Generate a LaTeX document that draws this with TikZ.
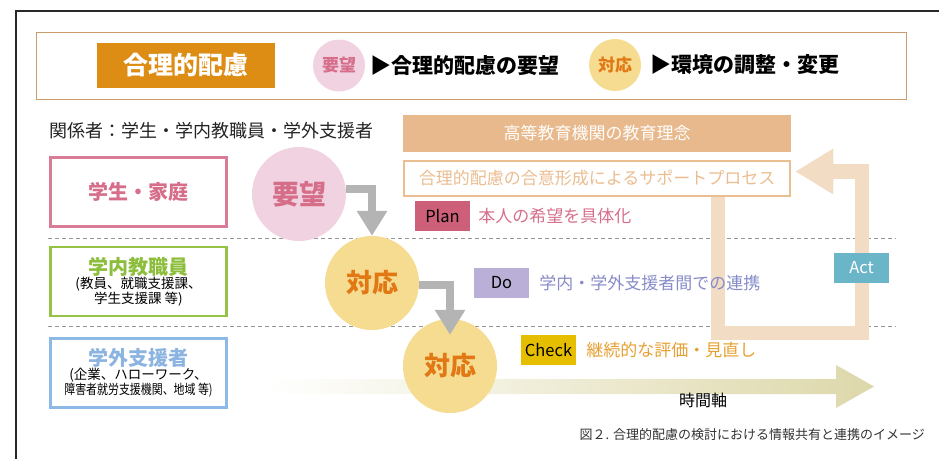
\documentclass[tikz,border=0pt]{standalone}
\usepackage{fontspec}
\setmainfont{Noto Sans CJK JP}
\usepackage{xcolor}
\usetikzlibrary{positioning,arrows.meta}

\definecolor{frameline}{RGB}{40,40,40}
\definecolor{headline}{RGB}{205,155,110}
\definecolor{titleorange}{RGB}{221,140,20}
\definecolor{pinkfill}{RGB}{240,210,225}
\definecolor{pinktext}{RGB}{214,110,138}
\definecolor{pinkline}{RGB}{217,125,150}
\definecolor{yellowfill}{RGB}{245,220,145}
\definecolor{orangetext}{RGB}{225,120,20}
\definecolor{greenline}{RGB}{150,195,70}
\definecolor{greentext}{RGB}{140,190,60}
\definecolor{blueline}{RGB}{140,185,230}
\definecolor{bluetext}{RGB}{140,180,225}
\definecolor{tanbar}{RGB}{232,185,140}
\definecolor{tanline}{RGB}{235,190,145}
\definecolor{loopcol}{RGB}{242,220,195}
\definecolor{planfill}{RGB}{205,95,120}
\definecolor{dofill}{RGB}{185,175,215}
\definecolor{dotext}{RGB}{135,140,200}
\definecolor{checkfill}{RGB}{230,190,0}
\definecolor{checktext}{RGB}{230,160,50}
\definecolor{actfill}{RGB}{107,181,200}
\definecolor{arrowgray}{RGB}{180,180,180}
\definecolor{axiscol}{RGB}{221,216,170}
\definecolor{dashcol}{RGB}{150,150,150}

\newcommand{\fsz}[1]{\fontsize{#1}{#1}\selectfont}

\begin{document}
\begin{tikzpicture}[x=1pt, y=-1pt,
    main/.style = {circle, inner sep=0pt},
    lbl/.style = {inner sep=0pt},
    role/.style = {draw, line width=2.5pt, minimum width=176pt, minimum height=69pt, align=center, fill=white, inner sep=0pt},
    tag/.style = {minimum width=55pt, minimum height=30pt, inner sep=0pt, font=\fsz{16.5}},
    gray arrow/.style = {draw=arrowgray, line width=8pt, -{Triangle[length=25pt,width=29pt]}},
    loop band/.style = {draw=loopcol, line width=14.5pt, -{Triangle[length=38pt,width=43pt]}},
    sep line/.style = {draw=dashcol, line width=0.8pt, dash pattern=on 4pt off 3pt}]
    \useasboundingbox (0,0) rectangle (939,459);
    \draw[frameline, line width=1.2pt] (16,459) -- (16,11) -- (939,11);

    \node[draw=headline, line width=1.5pt, minimum width=870pt, minimum height=67pt] (1) at (471.5,66) {};
    \node[fill=titleorange, minimum width=178pt, minimum height=45pt, text=white, font=\bfseries\fsz{25}] (2) at (186,65.5) {合理的配慮};
    \node[main, fill=pinkfill, minimum size=52pt, text=pinktext, font=\bfseries\fsz{17}] (3) at (339,65.5) {要望};
    \node[lbl, right=5pt of 3, font=\bfseries\fsz{21}] (4) {▶合理的配慮の要望};
    \node[main, fill=yellowfill, minimum size=52pt, text=orangetext, font=\bfseries\fsz{17}] (5) at (615,65) {対応};
    \node[lbl, right=9pt of 5, font=\bfseries\fsz{21}] (6) {▶環境の調整・変更};

    \node[lbl, anchor=west, text={rgb,255:red,35;green,35;blue,35}, font=\fsz{18}] (7) at (49,131) {関係者：学生・学内教職員・学外支援者};
    \node[fill=tanbar, minimum width=388pt, minimum height=37pt, text=white, font=\fsz{17}] (8) at (597,133.5) {高等教育機関の教育理念};

    \draw[sep line] (48,238) -- (896,238);
    \draw[sep line] (48,326) -- (896,326);

    \node[draw=tanline, line width=2.5pt, fill=white, minimum width=386pt, minimum height=35pt, text=tanline, font=\fsz{17}] (9) at (597,178.5) {合理的配慮の合意形成によるサポートプロセス};
    \draw[loop band] ([xshift=121pt]9.south) |- (862,333) |- ([shift={(4pt,7pt)}]9.east);
    \node[draw=tanline, line width=2.5pt, fill=white, minimum width=386pt, minimum height=35pt, text=tanline, font=\fsz{17}] at (597,178.5) {合理的配慮の合意形成によるサポートプロセス};

    \node[role, draw=pinkline] (10) at (138.5,192) {\bfseries\color{pinktext}\fsz{20}学生・家庭};
    \node[role, draw=greenline] (11) at (138.5,281.5) {{\bfseries\color{greentext}\fontsize{20}{24}\selectfont 学内教職員}\\
        {\fontsize{13.5}{17.5}\selectfont (教員、就職支援課、}\\{\fontsize{13.5}{17.5}\selectfont 学生支援課 等)}};
    \node[role, draw=blueline] (12) at (138.5,373) {{\bfseries\color{bluetext}\fontsize{20}{24}\selectfont 学外支援者}\\
        {\fontsize{13.5}{17.5}\selectfont (企業、ハローワーク、}\\{\fontsize{13.5}{17.5}\selectfont \scalebox{0.81}[1]{障害者就労支援機関、地域 等)}}};

    \shade[left color=white, right color=axiscol] (265,379) -- (836,379) -- (836,365) -- (874,386.5) -- (836,408) -- (836,394) -- (265,394) -- cycle;
    \node[lbl, font=\fsz{16}] (13) at (703,400) {時間軸};

    \node[main, fill=pinkfill, minimum size=94pt, text=pinktext, font=\bfseries\fsz{27}] (14) at (299,194) {要望};
    \node[main, fill=yellowfill, minimum size=94pt, text=orangetext, font=\bfseries\fsz{26}] (15) at (372,283) {対応};
    \node[main, fill=yellowfill, minimum size=94pt, text=orangetext, font=\bfseries\fsz{26}] (16) at (450,366) {対応};

    \draw[gray arrow] ([yshift=5pt]14.east) -| (15.north);
    \draw[gray arrow] ([yshift=-2pt]15.east) -| ([yshift=-16pt]16.north);

    \node[tag, fill=planfill] (17) at (442.5,216) {Plan};
    \node[lbl, right=8pt of 17, text=pinktext, font=\fsz{17}] (18) {本人の希望を具体化};
    \node[tag, fill=dofill] (19) at (501.5,283) {Do};
    \node[lbl, right=10pt of 19, text=dotext, font=\fsz{17}] (20) {学内・学外支援者間での連携};
    \node[tag, fill=checkfill] (21) at (548.5,350) {Check};
    \node[lbl, right=10pt of 21, text=checktext, font=\fsz{17}] (22) {継続的な評価・見直し};
    \node[tag, fill=actfill, text=white] (23) at (861.5,268) {Act};

    \node[lbl, anchor=east, text={rgb,255:red,50;green,50;blue,50}, font=\fsz{13}] (24) at (925,435) {図２. 合理的配慮の検討における情報共有と連携のイメージ};
\end{tikzpicture}
\end{document}
